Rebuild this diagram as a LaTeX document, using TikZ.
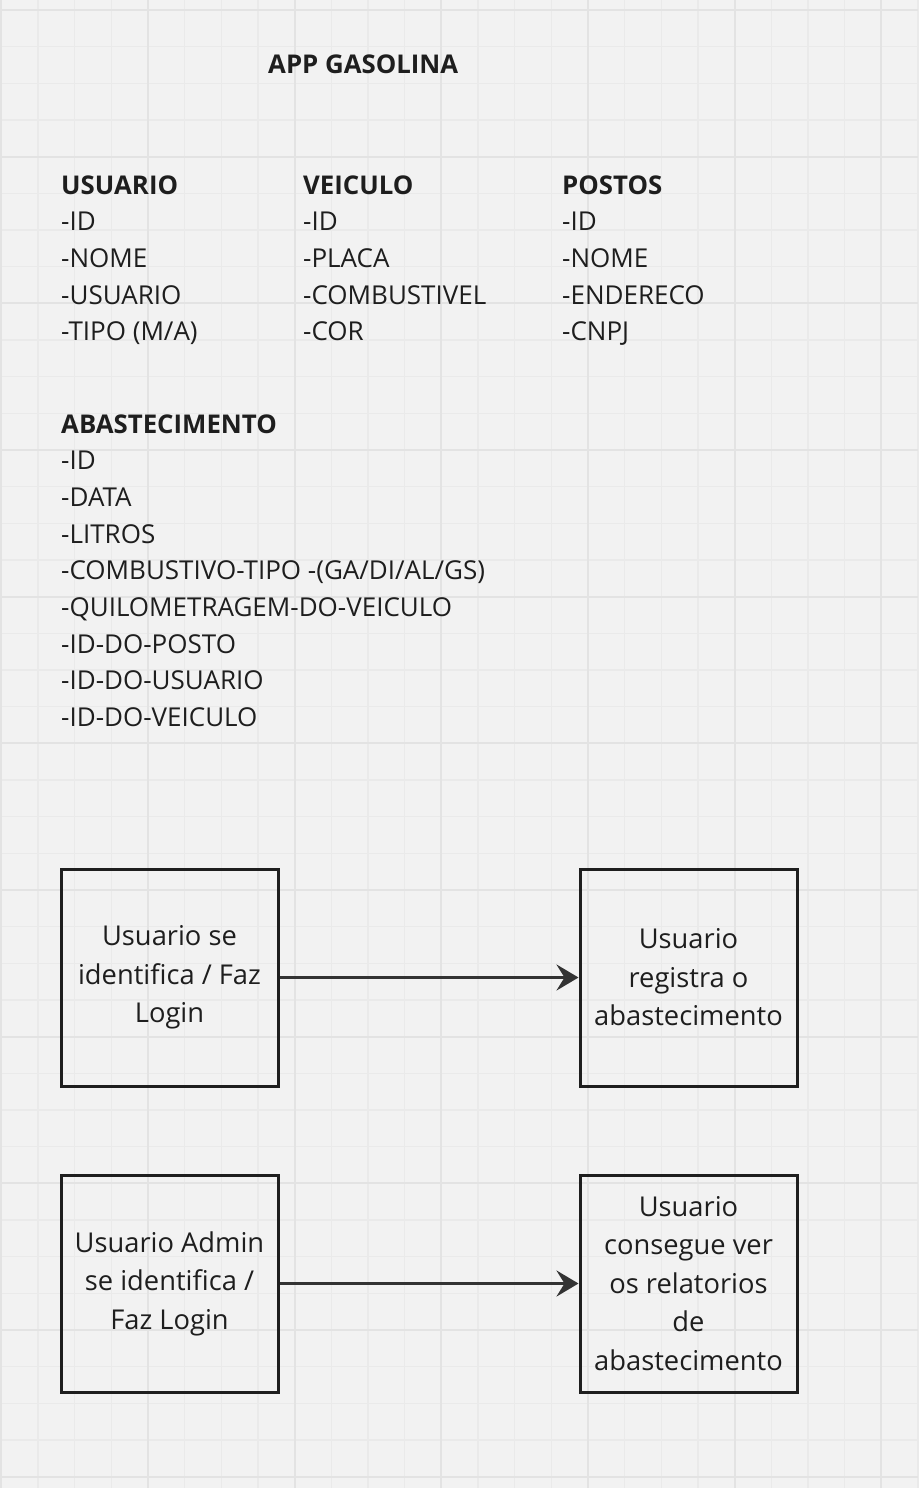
\documentclass[tikz,border=0pt]{standalone}
\usepackage{fontspec}
\setmainfont{Open Sans}
\usetikzlibrary{arrows.meta}

\definecolor{fundo}{HTML}{F2F2F2}
\definecolor{gradefina}{HTML}{EAEAEA}
\definecolor{gradegrossa}{HTML}{E3E3E3}
\definecolor{tinta}{HTML}{1E1E1E}
\definecolor{seta}{HTML}{333333}

\begin{document}
\begin{tikzpicture}[x=1pt, y=-1pt,
    titulo/.style={anchor=base west, inner sep=0pt, text=tinta, font=\fontsize{25.8}{30}\selectfont\bfseries},
    campo/.style={anchor=base west, inner sep=0pt, text=tinta, font=\fontsize{26}{30}\selectfont},
    caixa/.style={draw=tinta, line width=3pt, minimum width=217pt, minimum height=217pt, inner sep=0pt,
                  align=center, text=tinta, font=\fontsize{27.3}{38.5}\selectfont},
    ligacao/.style={draw=seta, line width=3pt, -{Stealth[length=22pt, width=26pt, inset=8pt]}}]

	% background and grid
\useasboundingbox (0,0) rectangle (918,1488);
\fill[fundo] (0,0) rectangle (918,1488);
\foreach \k in {0,...,25} \draw[gradefina, line width=1.5pt] (1.3+36.667*\k, 0) -- (1.3+36.667*\k, 1488);
\foreach \k in {0,...,40} \draw[gradefina, line width=1.5pt] (0, 10+36.667*\k) -- (918, 10+36.667*\k);
\foreach \k in {0,...,6} \draw[gradegrossa, line width=2pt] (1.3+146.667*\k, 0) -- (1.3+146.667*\k, 1488);
\foreach \k in {0,...,10} \draw[gradegrossa, line width=2pt] (0, 10+146.667*\k) -- (918, 10+146.667*\k);

	% title
\node[titulo] (app) at (268,74) {APP GASOLINA};

	% usuario
\node[titulo] (usuario) at (61,194) {USUARIO};
\foreach \t [count=\i] in {-ID,-NOME,-USUARIO,-TIPO (M/A)}
  \node[campo] (usuario\i) at (61,194+36.7*\i) {\t};

	% veiculo
\node[titulo] (veiculo) at (303,194) {VEICULO};
\foreach \t [count=\i] in {-ID,-PLACA,-COMBUSTIVEL,-COR}
  \node[campo] (veiculo\i) at (303,194+36.7*\i) {\t};

	% postos
\node[titulo] (postos) at (562,194) {POSTOS};
\foreach \t [count=\i] in {-ID,-NOME,-ENDERECO,-CNPJ}
  \node[campo] (postos\i) at (562,194+36.7*\i) {\t};

	% abastecimento
\node[titulo] (abast) at (61,433) {ABASTECIMENTO};
\foreach \t [count=\i] in {-ID,-DATA,-LITROS,-COMBUSTIVO-TIPO -(GA/DI/AL/GS),-QUILOMETRAGEM-DO-VEICULO,-ID-DO-POSTO,-ID-DO-USUARIO,-ID-DO-VEICULO}
  \node[campo] (abast\i) at (61,433+36.7*\i) {\t};

	% flow boxes
\node[caixa] (login) at (169.5,977.5) {Usuario se\\identifica / Faz\\Login};
\node[caixa] (registro) at (688.5,977.5) {Usuario\\registra o\\abastecimento};
\node[caixa] (loginadmin) at (169.5,1283.5) {Usuario Admin\\se identifica /\\Faz Login};
\node[caixa] (relatorios) at (688.5,1283.5) {Usuario\\consegue ver\\os relatorios\\de\\abastecimento};

	% arrows
\draw[ligacao] (login) -- (registro);
\draw[ligacao] (loginadmin) -- (relatorios);

\end{tikzpicture}
\end{document}
